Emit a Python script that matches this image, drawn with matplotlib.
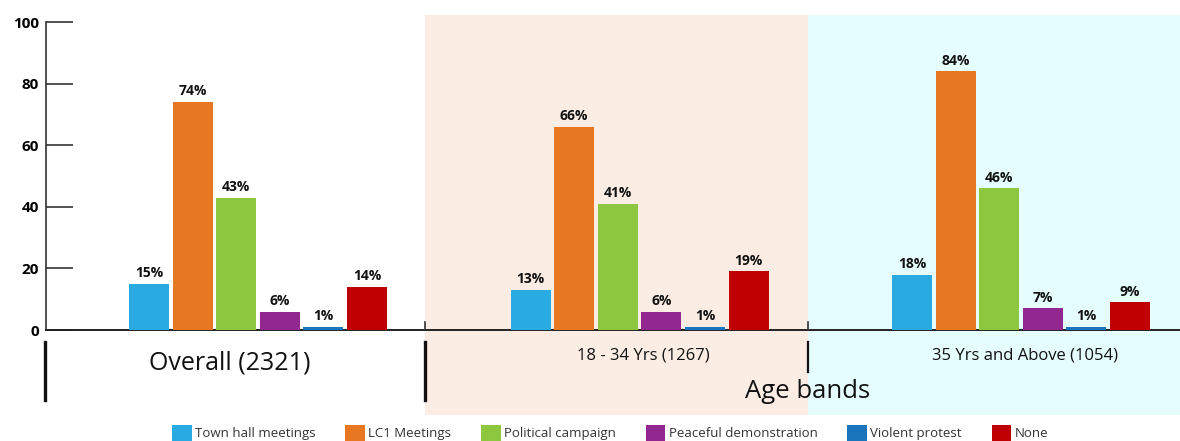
import matplotlib
matplotlib.use("Agg")
import matplotlib.pyplot as plt
import numpy as np
from matplotlib.patches import Rectangle, Patch
from matplotlib.lines import Line2D

plt.rcParams['font.family'] = ['Open Sans', 'DejaVu Sans']

groups = ["Overall (2321)", "18 - 34 Yrs (1267)", "35 Yrs and Above (1054)"]
series = ["Town hall meetings", "LC1 Meetings", "Political campaign",
          "Peaceful demonstration", "Violent protest", "None"]
colors = ["#29ABE2", "#E87722", "#8DC63F", "#92278F", "#1B75BC", "#C00000"]
values = [
    [15, 13, 18],
    [74, 66, 84],
    [43, 41, 46],
    [6, 6, 7],
    [1, 1, 1],
    [14, 19, 9],
]
yticks = [0, 20, 40, 60, 80, 100]

W, H = 1180, 441
fig = plt.figure(figsize=(W / 100, H / 100), dpi=100)

# axes placement in pixels
ax_l, ax_r, ax_t, ax_b = 46, 1180, 22, 330
ax = fig.add_axes([ax_l / W, (H - ax_b) / H, (ax_r - ax_l) / W, (ax_b - ax_t) / H])
ax.set_facecolor('none')

px_per_unit = 381.5
x0 = -(258 - ax_l) / px_per_unit
x1 = x0 + (ax_r - ax_l) / px_per_unit
ax.set_xlim(x0, x1)
ax.set_ylim(0, 100)

# background panels (figure coords)
bounds_px = [425, 808, 1180]
panel_colors = ["#FBEDE4", "#E6FDFD"]
for i, c in enumerate(panel_colors):
    xa, xb = bounds_px[i], bounds_px[i + 1]
    fig.patches.append(Rectangle((xa / W, (H - 415) / H), (xb - xa) / W, (415 - 15) / H,
                                 transform=fig.transFigure, facecolor=c, edgecolor='none', zorder=-10))

x = np.arange(len(groups))
bw = 40 / px_per_unit
step = 43.6 / px_per_unit
for j, (name, col, vals) in enumerate(zip(series, colors, values)):
    pos = x + (j - 2.5) * step
    bars = ax.bar(pos, vals, width=bw, color=col, label=name, zorder=3)
    for b, v in zip(bars, vals):
        ax.text(b.get_x() + b.get_width() / 2, v + 1.2, f"{v}%", ha='center', va='bottom',
                fontsize=10, fontweight='bold', color='#111111')

# spines
for s in ['top', 'right']:
    ax.spines[s].set_visible(False)
ax.spines['left'].set_color('#333333')
ax.spines['left'].set_linewidth(1.2)
ax.spines['bottom'].set_color('#222222')
ax.spines['bottom'].set_linewidth(1.4)

ax.set_yticks(yticks)
ax.set_yticklabels([str(t) for t in yticks], fontsize=11, fontweight='bold')
ax.tick_params(axis='y', direction='in', length=19.5, width=1.2, color='#333333', pad=5)
ax.set_xticks([])

# small ticks at group separators
sep_units = [(b - 258) / px_per_unit for b in bounds_px[:2]]
for s in sep_units:
    ax.plot([s, s], [0, 2.5], color='#333333', lw=1.2, clip_on=False, zorder=4)

# group labels
fig.text(230 / W, 1 - 363 / H, groups[0], ha='center', va='center', fontsize=18, color='#111111')
fig.text(643 / W, 1 - 355 / H, groups[1], ha='center', va='center', fontsize=12, color='#111111')
fig.text(1025 / W, 1 - 355 / H, groups[2], ha='center', va='center', fontsize=12, color='#111111')
fig.text(808 / W, 1 - 392 / H, "Age bands", ha='center', va='center', fontsize=18.5, color='#111111')

# separator bars under axis
for xp, y_a, y_b, lw in [(45, 342, 400, 2.4), (425, 342, 400, 2.4), (808, 342, 372, 1.6)]:
    fig.add_artist(Line2D([xp / W, xp / W], [1 - y_a / H, 1 - y_b / H], transform=fig.transFigure,
                          color='#111111', lw=lw))

handles = [Patch(facecolor=c, edgecolor='none') for c in colors]
fig.legend(handles, series, loc='center', bbox_to_anchor=(610 / W, 1 - 433 / H), ncol=6,
           frameon=False, fontsize=9.5, handlelength=1.5, handleheight=1.5,
           handletextpad=0.25, columnspacing=2.25, labelcolor='#333333', borderaxespad=0)

fig.savefig("out.png", dpi=100)
